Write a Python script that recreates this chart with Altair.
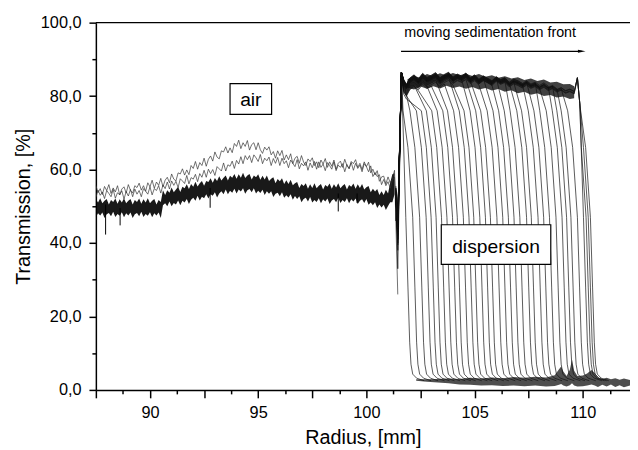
import altair as alt
import pandas as pd

# ---------------- axis ranges ----------------
x_domain = [87.5, 112.18]
y_domain = [0, 100]
x_ticks = [87.5 + 1.25 * k for k in range(20)]
y_ticks = [0, 10, 20, 30, 40, 50, 60, 70, 80, 90, 100]

# ---------------- air region (0.1 mm grid) ----------------
air_x = [round(87.5 + 0.1 * k, 2) for k in range(139)]
# two thin early profiles
air_a = [55.7, 53.7, 54.8, 53.2, 55.4, 54.3, 55.9, 53.5, 55.0, 53.9,
         55.6, 53.1, 54.7, 55.3, 53.6, 55.9, 54.3, 53.6, 55.6, 55.1,
         56.3, 54.4, 55.6, 54.1, 56.4, 55.3, 57.1, 54.9, 56.6, 55.7,
         57.6, 55.3, 57.1, 57.9, 56.4, 58.8, 57.4, 56.9, 59.1, 58.8,
         60.2, 58.5, 59.9, 58.6, 61.1, 60.3, 62.2, 60.1, 61.9, 61.1,
         63.1, 60.9, 62.8, 63.7, 62.3, 64.8, 63.4, 62.9, 65.1, 64.8,
         66.2, 64.5, 65.9, 64.6, 67.1, 66.3, 68.0, 65.7, 67.3, 66.3,
         67.9, 65.3, 66.8, 67.3, 65.4, 67.3, 65.4, 64.4, 66.1, 65.3,
         66.2, 64.0, 64.9, 63.1, 65.1, 63.8, 65.2, 62.6, 64.0, 62.7,
         64.3, 61.6, 63.1, 63.6, 61.7, 63.8, 62.0, 61.1, 62.9, 62.2,
         63.2, 61.1, 62.1, 60.5, 62.6, 61.5, 63.0, 60.6, 62.1, 60.9,
         62.6, 60.1, 61.7, 62.3, 60.6, 62.8, 61.1, 60.3, 62.2, 61.6,
         62.7, 60.6, 61.7, 60.0, 62.1, 60.8, 62.0, 59.1, 60.1, 58.5,
         59.7, 56.8, 58.0, 58.2, 56.1, 58.0, 56.4, 57.5, 59.8]
air_b = [52.4, 54.4, 53.0, 53.9, 52.1, 54.3, 53.5, 52.6, 54.6, 52.2,
         53.7, 53.1, 54.2, 52.0, 54.0, 52.8, 54.6, 52.6, 54.7, 53.3,
         54.3, 52.6, 54.8, 54.1, 53.3, 55.3, 53.1, 54.8, 54.3, 55.6,
         53.6, 55.8, 54.8, 56.6, 54.7, 56.9, 55.7, 56.8, 55.1, 57.5,
         56.9, 56.2, 58.4, 56.1, 57.8, 57.4, 58.7, 56.7, 58.9, 57.9,
         59.8, 57.9, 60.1, 58.9, 60.0, 58.4, 60.8, 60.2, 59.6, 61.8,
         59.6, 61.3, 60.9, 62.3, 60.3, 62.5, 61.5, 63.5, 61.6, 63.8,
         62.7, 63.8, 61.9, 64.0, 63.2, 62.2, 64.1, 61.6, 63.1, 62.4,
         63.4, 61.1, 63.0, 61.7, 63.3, 61.1, 63.1, 61.6, 62.4, 60.5,
         62.6, 61.7, 60.8, 62.7, 60.2, 61.7, 61.0, 62.1, 59.8, 61.8,
         60.5, 62.2, 60.1, 62.1, 60.6, 61.5, 59.7, 61.9, 61.1, 60.1,
         62.1, 59.7, 61.2, 60.6, 61.6, 59.4, 61.4, 60.2, 61.9, 59.8,
         61.7, 60.3, 61.2, 59.4, 61.6, 60.8, 59.4, 61.0, 58.1, 59.2,
         58.1, 58.6, 55.9, 57.3, 55.6, 56.7, 54.9, 57.1, 57.9]
air_a_end = [[101.45, 26.0]]
air_b_end = [[101.45, 41.0]]
# dense band of the later profiles: lower / upper edge
band_lo = [47.0, 48.1, 47.5, 48.3, 46.8, 47.8, 48.2, 47.3, 48.5, 47.1,
           47.9, 47.4, 48.4, 47.0, 48.1, 47.5, 48.3, 46.8, 47.8, 48.2,
           47.3, 48.5, 47.1, 47.9, 47.4, 48.4, 47.0, 48.1, 47.5, 48.3,
           46.8, 50.3, 50.8, 50.0, 51.3, 50.0, 50.9, 50.5, 51.6, 50.3,
           51.5, 51.0, 52.0, 50.6, 51.8, 52.3, 51.5, 52.9, 51.6, 52.6,
           52.2, 53.3, 52.1, 53.3, 52.9, 53.8, 52.4, 53.5, 54.1, 53.3,
           54.6, 53.3, 54.2, 53.7, 54.8, 53.5, 54.6, 54.0, 54.9, 53.4,
           54.4, 54.7, 53.8, 54.9, 53.5, 54.2, 53.6, 54.5, 53.1, 54.1,
           53.4, 54.1, 52.5, 53.4, 53.7, 52.7, 53.8, 52.3, 53.0, 52.4,
           53.3, 51.8, 52.8, 52.0, 52.7, 51.1, 52.0, 52.3, 51.3, 52.5,
           51.0, 51.7, 51.2, 52.2, 50.8, 51.9, 51.3, 52.1, 50.6, 51.6,
           52.0, 51.1, 52.3, 50.9, 51.7, 51.2, 52.2, 50.8, 51.9, 51.3,
           52.1, 50.6, 51.5, 51.9, 50.9, 52.0, 50.4, 51.0, 50.3, 51.1,
           49.5, 50.5, 49.7, 50.4, 49.0, 50.1, 51.1, 51.1, 53.3]
band_hi = [51.9, 51.0, 52.2, 50.8, 51.5, 52.0, 50.5, 51.7, 51.2, 52.1,
           50.7, 51.9, 51.0, 52.2, 50.8, 51.5, 52.0, 50.5, 51.7, 51.2,
           52.1, 50.7, 51.9, 51.0, 52.2, 50.8, 51.5, 52.0, 50.5, 51.7,
           51.2, 54.4, 53.1, 54.4, 53.7, 55.1, 53.8, 54.6, 55.3, 53.9,
           55.3, 54.9, 56.0, 54.7, 56.1, 55.3, 56.7, 55.4, 56.3, 56.9,
           55.6, 56.9, 56.6, 57.6, 56.4, 57.7, 56.9, 58.2, 57.0, 57.8,
           58.4, 57.0, 58.3, 57.8, 58.8, 57.5, 58.7, 57.8, 59.1, 57.7,
           58.4, 58.8, 57.3, 58.4, 57.9, 58.7, 57.2, 58.3, 57.3, 58.4,
           56.9, 57.5, 57.9, 56.3, 57.4, 56.8, 57.6, 56.1, 57.1, 56.1,
           57.2, 55.7, 56.3, 56.6, 55.0, 56.1, 55.5, 56.3, 54.8, 56.0,
           55.0, 56.3, 54.9, 55.6, 56.1, 54.6, 55.8, 55.3, 56.2, 54.8,
           56.0, 55.1, 56.3, 54.9, 55.6, 56.1, 54.6, 55.8, 55.3, 56.2,
           54.8, 56.0, 55.0, 56.1, 54.6, 55.2, 55.5, 53.8, 54.8, 54.0,
           54.7, 53.1, 54.1, 53.1, 54.5, 53.5, 56.4, 58.7, 59.0]
# isolated downward spikes inside the band: x, top, bottom
spk_x = [87.95, 88.62, 92.78, 98.7, 99.57, 101.36]
spk_top = [50.5, 49.5, 55.0, 53.5, 53.5, 55.0]
spk_bot = [42.3, 44.8, 49.6, 48.6, 50.9, 46.0]

# ---------------- dispersion: plateau (shared) ----------------
pl_x = [101.62, 101.72, 101.85, 102.0, 102.2, 102.4, 102.6, 102.8, 103.0, 103.2,
        103.4, 103.6, 103.8, 104.0, 104.2, 104.4, 104.6, 104.8, 105.0, 105.2,
        105.4, 105.6, 105.8, 106.0, 106.2, 106.4, 106.6, 106.8, 107.0, 107.2,
        107.4, 107.6, 107.8, 108.0, 108.2, 108.4, 108.6, 108.8, 109.0, 109.2,
        109.4, 109.6]
pl_y = [86.5, 83.0, 81.6, 83.3, 84.2, 83.1, 84.6, 83.5, 84.1, 84.8,
        83.4, 84.3, 84.9, 83.6, 84.4, 83.9, 84.7, 83.4, 84.2, 83.0,
        83.9, 83.3, 82.6, 83.7, 82.9, 83.4, 82.2, 83.0, 82.6, 81.9,
        82.7, 81.8, 82.3, 81.4, 82.1, 81.2, 81.7, 80.8, 81.3, 80.5,
        80.9, 80.3]
plate_band_x = [101.9, 102.2, 102.5, 102.8, 103.1, 103.4, 103.7, 104.0, 104.3, 104.6,
                104.9, 105.2, 105.5, 105.8, 106.1, 106.4, 106.7, 107.0, 107.3, 107.6,
                107.9, 108.2, 108.5, 108.8, 109.1, 109.4, 109.6]
plate_band_lo = [82.3, 81.8, 82.6, 82.0, 82.7, 82.1, 82.8, 82.2, 82.6, 82.0,
                 82.5, 81.8, 82.2, 81.5, 81.9, 81.2, 81.6, 80.8, 81.2, 80.4,
                 80.8, 80.0, 80.3, 79.6, 79.9, 79.2, 79.4]
plate_band_hi = [84.6, 85.5, 85.0, 86.0, 85.4, 86.2, 85.6, 86.3, 85.7, 86.1,
                 85.5, 86.0, 85.3, 85.7, 85.0, 85.4, 84.8, 85.1, 84.4, 84.8,
                 84.1, 84.5, 83.7, 83.9, 83.2, 83.3, 82.7]

# ---------------- dispersion: individual profiles ----------------
fronts = [101.82, 102.14, 102.46, 102.76, 102.99, 103.22, 103.47, 103.72, 103.98, 104.20,
          104.48, 104.74, 104.96, 105.24, 105.50, 105.73, 106.03, 106.30, 106.56, 106.82,
          107.09, 107.40, 107.62, 107.93, 108.19, 108.46, 108.76, 109.04, 109.25, 109.45,
          109.75, 110.03, 110.15, 110.25, 110.35]
starts = [52.0, 55.5, 53.0, 54.2, 52.6, 53.8, 52.9, 54.6, 53.3, 52.4,
          54.0, 53.1, 55.0, 52.7, 53.6, 54.3, 52.5, 53.9, 53.0, 54.8,
          52.8, 53.5, 54.1, 52.9, 53.7, 54.4, 52.6, 53.2, 54.0, 53.4,
          52.7, 53.8, 54.2, 53.1, 52.9]
dips = [33.0, 41.0, 44.0, 38.0, 46.0, 42.0, 45.0, 40.0, 44.5, 43.0,
        46.5, 39.5, 44.0, 45.5, 42.0, 46.0, 44.5, 41.0, 45.0, 43.5,
        46.0, 44.0, 45.5, 42.5, 45.0, 46.5, 43.0, 45.5, 44.0, 46.0,
        44.5, 45.5, 46.0, 44.0, 45.0]
offsets = [-3.0, -2.6, -2.2, -1.8, -2.4, -1.2, -1.6, -0.8, -1.4, -0.4,
           -1.0, 0.2, -0.6, 0.6, -0.2, 0.8, 0.0, 1.0, 0.4, 1.2,
           0.6, 1.4, 0.9, 1.6, 1.1, 1.3, 0.8, 1.5, 1.0, 1.2,
           0.7, 1.0, 0.5, 0.9, 0.3]
shoulders = [1.1, 1.1, 1.0, 1.0, 1.0, 0.9, 0.9, 0.9, 0.85, 0.85,
             0.8, 0.8, 0.8, 0.75, 0.75, 0.75, 0.7, 0.7, 0.7, 0.7,
             0.65, 0.65, 0.65, 0.65, 0.6, 0.6, 0.6, 0.6, 0.6, 0.6,
             0.55, 0.5, 0.5, 0.5, 0.5]
end_spike = [False] * 31 + [True] * 4
spike_x = [109.75, 109.86]
spike_y = [85.0, 78.0]
tmpl_dx = [-0.45, -0.22, 0.0, 0.10, 0.18, 0.24, 0.32, 0.50, 0.85]
tmpl_y = [76.0, 66.0, 47.0, 28.0, 13.0, 7.0, 4.3, 3.2, 2.5]

# ---------------- baseline after the front ----------------
base_x = [102.3, 102.8, 103.3, 103.8, 104.3, 104.8, 105.3, 105.8, 106.3, 106.8,
          107.3, 107.8, 108.3, 108.7, 108.9, 109.0, 109.1, 109.25, 109.4, 109.5,
          109.6, 109.75, 110.0, 110.2, 110.4, 110.55, 110.7, 110.9, 111.1, 111.3,
          111.5, 111.7, 111.9, 112.18]
base_lo = [2.5, 2.2, 2.0, 1.8, 1.5, 1.4, 1.2, 1.3, 1.1, 1.2,
           1.0, 1.2, 0.9, 1.1, 1.4, 1.6, 1.2, 0.9, 1.3, 1.8,
           1.2, 0.9, 1.0, 1.2, 1.5, 1.2, 0.8, 1.4, 0.9, 1.5,
           0.8, 1.3, 0.7, 1.2]
base_hi = [2.9, 2.9, 3.0, 3.1, 3.0, 3.3, 3.1, 3.4, 3.2, 3.5,
           3.3, 3.6, 3.4, 4.0, 5.6, 6.4, 5.0, 3.8, 5.5, 8.3,
           5.2, 3.8, 3.9, 4.5, 5.4, 4.6, 3.4, 3.0, 3.3, 2.9,
           3.2, 2.8, 3.1, 2.7]

# ---------------- annotations ----------------
boxes = pd.DataFrame({"x1": [93.7, 103.46], "x2": [95.62, 108.52],
                      "y1": [75.0, 34.2], "y2": [83.4, 44.97]})
box_text = pd.DataFrame({"x": [94.66, 105.99], "y": [77.2, 37.4],
                         "t": ["air", "dispersion"]})
arrow = pd.DataFrame({"x0": [101.6], "x1": [109.95], "y": [92.2]})
front_text = pd.DataFrame({"x": [105.72], "y": [96.0], "t": ["moving sedimentation front"]})

# ---------------- build tables ----------------
rows = []
for i, (f, s0, dp, off, sh) in enumerate(zip(fronts, starts, dips, offsets, shoulders)):
    pts = [(101.36, s0), (101.45, dp), (pl_x[0], pl_y[0])]
    for px, py in zip(pl_x[1:], pl_y[1:]):
        if end_spike[i]:
            if px <= 109.6:
                pts.append((px, py + off))
        elif px < f - sh:
            pts.append((px, py + off))
    if end_spike[i]:
        pts += list(zip(spike_x, spike_y))
    for dx, v in zip(tmpl_dx, tmpl_y):
        if f + dx > pts[-1][0]:
            pts.append((f + dx, v))
    for k, (px, py) in enumerate(pts):
        rows.append({"x": px, "y": py, "c": f"p{i}", "o": k})

thin_rows = []
for name, ys_, end in (("a", air_a, air_a_end), ("b", air_b, air_b_end)):
    k = 0
    for px, py in zip(air_x, ys_):
        thin_rows.append({"x": px, "y": py, "c": name, "o": k})
        k += 1
    for px, py in end:
        thin_rows.append({"x": px, "y": py, "c": name, "o": k})
        k += 1

lines_df = pd.DataFrame(rows)
thin_df = pd.DataFrame(thin_rows)
air_band = pd.DataFrame({"x": air_x, "lo": band_lo, "hi": band_hi})
spikes = pd.DataFrame({"x": spk_x, "lo": spk_bot, "hi": spk_top})
plate_band = pd.DataFrame({"x": plate_band_x, "lo": plate_band_lo, "hi": plate_band_hi})
base_band = pd.DataFrame({"x": base_x, "lo": base_lo, "hi": base_hi})

# ---------------- encodings ----------------
FONT = "Liberation Sans"
xaxis = alt.Axis(
    values=x_ticks,
    labelExpr="abs(datum.value % 5) < 0.01 ? format(datum.value, 'd') : ''",
    tickSize={"condition": {"test": "abs(datum.value % 2.5) < 0.01", "value": 8}, "value": 4},
    labelOverlap=False, labelFlush=False, grid=False,
    labelPadding=7, titleY=54, titleBaseline="alphabetic",
)
yaxis = alt.Axis(
    values=y_ticks,
    labelExpr="datum.value % 20 === 0 ? replace(format(datum.value, '.1f'), '.', ',') : ''",
    tickSize={"condition": {"test": "datum.value % 20 === 0", "value": 7}, "value": 4},
    labelOverlap=False, grid=False, labelPadding=8,
    titleX=-67, titleBaseline="alphabetic",
)
xs = alt.Scale(domain=x_domain, nice=False, zero=False)
ys = alt.Scale(domain=y_domain, nice=False, zero=False)


def X(field):
    return alt.X(field, type="quantitative", scale=xs, axis=xaxis, title="Radius, [mm]")


def Y(field):
    return alt.Y(field, type="quantitative", scale=ys, axis=yaxis, title="Transmission, [%]")


air_band_layer = alt.Chart(air_band).mark_area(color="#000000", opacity=0.9, clip=True).encode(
    x=X("x"), y=Y("lo"), y2="hi")
spike_layer = alt.Chart(spikes).mark_rule(color="#000000", strokeWidth=1, clip=True).encode(
    x=X("x"), y=Y("lo"), y2="hi")
thin_layer = alt.Chart(thin_df).mark_line(color="#333333", strokeWidth=0.7, clip=True).encode(
    x=X("x"), y=Y("y"), detail="c:N", order="o:Q")
plate_band_layer = alt.Chart(plate_band).mark_area(color="#111111", opacity=0.8, clip=True).encode(
    x=X("x"), y=Y("lo"), y2="hi")
base_band_layer = alt.Chart(base_band).mark_area(color="#222222", opacity=0.8, clip=True).encode(
    x=X("x"), y=Y("lo"), y2="hi")
lines_layer = alt.Chart(lines_df).mark_line(color="#111111", strokeWidth=0.7, clip=True).encode(
    x=X("x"), y=Y("y"), detail="c:N", order="o:Q")
box_layer = alt.Chart(boxes).mark_rect(fill="white", stroke="black", strokeWidth=1.2).encode(
    x=X("x1"), x2="x2", y=Y("y1"), y2="y2")
box_text_layer = alt.Chart(box_text).mark_text(
    font=FONT, fontSize=19.5, color="black", align="center", baseline="alphabetic").encode(
    x=X("x"), y=Y("y"), text="t:N")
arrow_line = alt.Chart(arrow).mark_rule(color="black", strokeWidth=1.2).encode(
    x=X("x0"), x2="x1", y=Y("y"))
arrow_head = alt.Chart(arrow).mark_point(
    shape="M -1 -0.4 L 1 0 L -1 0.4 Z", filled=True, color="black", size=60, opacity=1).encode(
    x=X("x1"), y=Y("y"))
front_text_layer = alt.Chart(front_text).mark_text(
    font=FONT, fontSize=14.5, color="black", align="center", baseline="alphabetic").encode(
    x=X("x"), y=Y("y"), text="t:N")
top_frame = alt.Chart(pd.DataFrame({"k": [0]})).mark_rule(color="black", strokeWidth=1.2).encode(
    x=alt.value(0), x2=alt.value(541), y=alt.value(0))

chart = alt.layer(
    air_band_layer, spike_layer, thin_layer, plate_band_layer, base_band_layer, lines_layer,
    box_layer, box_text_layer, arrow_line, arrow_head, front_text_layer, top_frame,
).properties(
    width=541, height=372,
    autosize=alt.AutoSizeParams(type="none"),
    padding={"left": 89, "top": 12, "right": 0, "bottom": 57},
).configure_view(stroke=None).configure_axis(
    labelFont=FONT, labelFontSize=16.5, labelColor="black",
    titleFont=FONT, titleFontSize=20, titleFontWeight="normal", titleColor="black",
    domainColor="black", domainWidth=1.5, tickColor="black", tickWidth=1.5,
)

chart.save("out.html", embed_options={"renderer": "svg", "actions": False})
